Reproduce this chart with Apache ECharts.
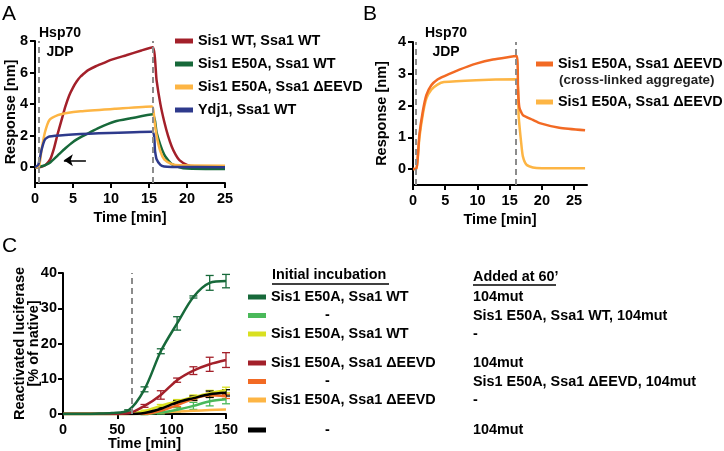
<!DOCTYPE html>
<html><head><meta charset="utf-8">
<script src="https://cdn.jsdelivr.net/npm/echarts@6/dist/echarts.min.js"></script>
<style>html,body{margin:0;padding:0;background:#fff}#c{width:724px;height:451px}</style>
</head><body><div id="c"></div>
<script>
const FONT = '"Liberation Sans", Arial, sans-serif';

// ---------- Panel A data ----------
const aLabels = ['Sis1 WT, Ssa1 WT', 'Sis1 E50A, Ssa1 WT', 'Sis1 E50A, Ssa1 ΔEEVD', 'Ydj1, Ssa1 WT'];
const aColors = ['#a3202a', '#17693a', '#fdb544', '#2e3a8c'];
const aRed = [[0,0],[0.5,0],[1,0.05],[1.5,0.2],[2,0.5],[2.5,1.2],[3,2.15],[3.5,3.0],[4,3.85],[4.5,4.55],[5,5.05],[5.5,5.45],[6,5.75],[6.6,6.0],[7,6.15],[8,6.4],[9,6.6],[10,6.8],[12,7.1],[14,7.4],[15.5,7.6],[16,5.5],[16.5,4.0],[17,2.9],[17.5,2.0],[18,1.3],[18.5,0.8],[19,0.45],[20,0.15],[21,0.06],[25,0.03]];
const aGreen = [[0,0],[0.5,0.02],[1,0.08],[1.5,0.17],[2,0.3],[3,0.75],[4,1.2],[5,1.6],[6.2,1.95],[7,2.15],[8.4,2.5],[10.5,2.9],[12.6,3.1],[15.5,3.35],[16,2.2],[16.5,1.4],[17,0.8],[17.5,0.45],[18,0.2],[19,0.0],[20,-0.08],[25,-0.12]];
const aYellow = [[0,0],[0.5,0.02],[0.86,1.1],[1.3,2.2],[1.9,3.0],[3,3.3],[4,3.42],[6,3.55],[10.5,3.7],[15.4,3.85],[15.7,3.0],[16,2.0],[16.5,1.0],[17,0.5],[18,0.2],[19,0.12],[25,0.1]];
const aBlue = [[0,0],[0.43,0.15],[0.86,1.1],[1.3,1.75],[1.9,1.95],[4,2.05],[8.4,2.15],[15.4,2.25],[15.8,1.0],[16,0.5],[16.5,0.15],[17,0.05],[18,0.02],[25,0.0]];
const aSeries = [aRed, aGreen, aYellow, aBlue];
const aDashes = [0.5, 15.5];
const aArrow = [[6.7, 0.44], [3.8, 0.44]];
const aYTicks = [0, 2, 4, 6, 8];

// ---------- Panel B data ----------
const bLabels = ['Sis1 E50A, Ssa1 ΔEEVD', 'Sis1 E50A, Ssa1 ΔEEVD'];
const bSubLabel = '(cross-linked aggregate)';
const bColors = ['#f26a24', '#fdb544'];
const bDark = [[0,0],[0.5,0],[1.0,1.1],[1.55,1.85],[2.07,2.33],[2.84,2.64],[3.8,2.82],[4.8,2.92],[7.2,3.13],[9.8,3.32],[12.4,3.45],[16.1,3.56],[16.3,2.5],[16.5,1.95],[17.05,1.7],[18.6,1.55],[19.8,1.44],[22.7,1.3],[26.7,1.22]];
const bLight = [[0,0],[0.5,0],[1.0,1.0],[1.55,1.75],[2.07,2.22],[2.84,2.5],[3.8,2.66],[4.8,2.74],[9.8,2.8],[16.1,2.83],[16.4,1.65],[16.8,0.8],[17.05,0.4],[17.6,0.14],[18.6,0.05],[20,0.03],[26.7,0.03]];
const bSeries = [bDark, bLight];
const bDashes = [0.5, 16];
const bXTicks = [0, 5, 10, 15, 20, 25];
const bYTicks = [0, 1, 2, 3, 4];

// ---------- Panel C data ----------
const cTimes = [0, 15, 30, 45, 60, 75, 90, 105, 120, 135, 150];
const cInitial = ['Sis1 E50A, Ssa1 WT', '-', 'Sis1 E50A, Ssa1 WT', 'Sis1 E50A, Ssa1 ΔEEVD', '-', 'Sis1 E50A, Ssa1 ΔEEVD', '-'];
const cAdded = ['104mut', 'Sis1 E50A, Ssa1 WT, 104mut', '-', '104mut', 'Sis1 E50A, Ssa1 ΔEEVD, 104mut', '-', '104mut'];
const cColors = ['#17693a', '#4ab95a', '#d9e021', '#a3202a', '#f26a24', '#fdb544', '#000000'];
const cDarkGreen = [0, 0, 0.1, 0.3, 1.0, 7.0, 17.8, 25.7, 33.2, 37.2, 37.7];
const cLightGreen = [0, 0, 0, 0, 0, 0, 0.4, 1.2, 2.3, 3.6, 4.2];
const cYellow = [0, 0, 0, 0, 0.1, 0.8, 2.3, 3.6, 4.8, 5.9, 6.8];
const cRed = [0, 0, 0, 0, 0.2, 2.3, 5.4, 9.6, 12.3, 14.1, 15.3];
const cOrange = [0, 0, 0, 0, 0, 0, 0.9, 2.5, 4.3, 5.3, 5.0];
const cLightOrange = [0, 0, 0, 0, 0, 0.2, 0.4, 0.7, 0.9, 1.1, 1.3];
const cBlack = [0, 0, 0, 0, 0, 0.3, 1.5, 3.3, 4.5, 5.6, 6.0];
const cErrDarkGreen = [0, 0, 0, 0, 0.2, 0.7, 0.7, 1.9, 0.3, 2.1, 1.9];
const cErrLightGreen = [0, 0, 0, 0, 0, 0.2, 0.4, 0.6, 1.0, 1.3, 1.3];
const cErrYellow = [0, 0, 0, 0, 0, 0.3, 0.4, 0.5, 0.6, 0.8, 0.8];
const cErrRed = [0, 0, 0, 0, 0, 0.4, 1.2, 0.6, 1.1, 2.0, 2.1];
const cErrOrange = [0, 0, 0, 0, 0, 0, 0.3, 0.4, 0.5, 0.6, 0.6];
const cErrLightOrange = [0, 0, 0, 0, 0, 0, 0, 0, 0, 0, 0];
const cErrBlack = [0, 0, 0, 0, 0, 0.3, 0.4, 0.5, 0.6, 0.9, 0.9];
const cValues = [cDarkGreen, cLightGreen, cYellow, cRed, cOrange, cLightOrange, cBlack];
const cErrors = [cErrDarkGreen, cErrLightGreen, cErrYellow, cErrRed, cErrOrange, cErrLightOrange, cErrBlack];
const cDash = 63;
const cGroups = [[0, 1, 2], [3, 4, 5], [6]];

// ---------- build ----------
const txt = (size, weight) => ({ fontFamily: FONT, fontSize: size, fontWeight: weight || 'bold', color: '#000' });
function axis(extra) {
  const base = {
    type: 'value',
    axisLine: { show: true, onZero: false, lineStyle: { color: '#000', width: 2 } },
    axisTick: { show: true, length: 5, lineStyle: { color: '#000', width: 2 } },
    axisLabel: Object.assign({ margin: 8 }, txt(14.5)),
    splitLine: { show: false },
    nameLocation: 'middle',
    nameMoveOverlap: false,
    nameTextStyle: txt(14.5)
  };
  for (const k in extra) {
    if (typeof extra[k] === 'object' && !Array.isArray(extra[k]) && base[k]) base[k] = Object.assign({}, base[k], extra[k]);
    else base[k] = extra[k];
  }
  return base;
}
const dashStyle = { color: '#8c8c8c', type: [6, 4], width: 2 };

const series = [];
aSeries.forEach((d, i) => {
  const s = {
    name: 'A' + i + '|' + aLabels[i], type: 'line', xAxisIndex: 0, yAxisIndex: 0, data: d,
    showSymbol: false, smooth: 0.2, color: aColors[i], lineStyle: { width: 2.5, color: aColors[i] }, z: 3
  };
  if (i === 0) s.markLine = { silent: true, symbol: 'none', label: { show: false }, lineStyle: dashStyle, data: aDashes.map(v => ({ xAxis: v })) };
  if (i === 3) s.markLine = { silent: true, symbol: ['none', 'arrow'], symbolSize: 9, label: { show: false },
    lineStyle: { color: '#000', type: 'solid', width: 1.5 }, data: [[{ coord: aArrow[0] }, { coord: aArrow[1] }]] };
  series.push(s);
});
bSeries.forEach((d, i) => {
  const s = {
    name: 'B' + i + '|' + bLabels[i], type: 'line', xAxisIndex: 1, yAxisIndex: 1, data: d,
    showSymbol: false, smooth: 0.2, color: bColors[i], lineStyle: { width: 2.5, color: bColors[i] }, z: 4 - i
  };
  if (i === 0) s.markLine = { silent: true, symbol: 'none', label: { show: false }, lineStyle: dashStyle, data: bDashes.map(v => ({ xAxis: v })) };
  series.push(s);
});
const cOrder = [5, 1, 4, 2, 6, 3, 0];
cOrder.forEach(i => {
  const s = {
    name: 'C' + i + '|' + cInitial[i], type: 'line', xAxisIndex: 2, yAxisIndex: 2,
    data: cTimes.map((t, k) => [t, cValues[i][k]]),
    showSymbol: false, smooth: 0.3, color: cColors[i], lineStyle: { width: 2.5, color: cColors[i] }, z: 3
  };
  if (i === 0) s.markLine = { silent: true, symbol: 'none', label: { show: false }, lineStyle: dashStyle, data: [{ xAxis: cDash }] };
  series.push(s);
  series.push({
    type: 'custom', xAxisIndex: 2, yAxisIndex: 2, silent: true, z: 3,
    encode: { x: 0, y: [1, 2] },
    data: cTimes.map((t, k) => [t, cValues[i][k] - cErrors[i][k], cValues[i][k] + cErrors[i][k]]).filter((d, k) => cErrors[i][k] > 0),
    renderItem: (params, api) => {
      const lo = api.coord([api.value(0), api.value(1)]);
      const hi = api.coord([api.value(0), api.value(2)]);
      const w = 4, st = { stroke: cColors[i], lineWidth: 1.3 };
      return { type: 'group', children: [
        { type: 'line', shape: { x1: lo[0], y1: lo[1], x2: hi[0], y2: hi[1] }, style: st },
        { type: 'line', shape: { x1: lo[0] - w, y1: lo[1], x2: lo[0] + w, y2: lo[1] }, style: st },
        { type: 'line', shape: { x1: hi[0] - w, y1: hi[1], x2: hi[0] + w, y2: hi[1] }, style: st }
      ] };
    }
  });
});

const legTxt = Object.assign({ lineHeight: 16 }, txt(14.4));
const legends = [
  { data: aLabels.map((l, i) => 'A' + i + '|' + l), orient: 'vertical', left: 175, top: 33, padding: 0, itemWidth: 18, itemHeight: 5, itemGap: 7,
    icon: 'rect', selectedMode: false, textStyle: legTxt, formatter: n => n.split('|')[1] },
  { data: bLabels.map((l, i) => 'B' + i + '|' + l), orient: 'vertical', left: 536, top: 56, padding: 0, itemWidth: 17, itemHeight: 5, itemGap: 22,
    icon: 'rect', selectedMode: false, textStyle: legTxt, formatter: n => n.split('|')[1] }
];
const cTops = [289, 355, 422];
cGroups.forEach((g, gi) => {
  legends.push({
    data: g.map(i => 'C' + i + '|' + cInitial[i]), orient: 'vertical', left: 248, top: cTops[gi], padding: 0, itemWidth: 18, itemHeight: 5, itemGap: 2.5,
    icon: 'rect', selectedMode: false,
    textStyle: Object.assign({}, legTxt, { rich: { dash: Object.assign({ padding: [0, 0, 0, 54], lineHeight: 16 }, txt(14.4)) } }),
    formatter: n => { const t = n.split('|')[1]; return t === '-' ? '{dash|-}' : t; }
  });
});

const cRowY = [297, 316, 334, 363, 382, 400, 430];
const center = (x, y, t, font) => ({ type: 'text', x: x, y: y, style: { text: t, font: font, fill: '#000', align: 'center', verticalAlign: 'middle' } });
const graphic = [
  { type: 'text', left: 2, top: 4, style: { text: 'A', font: 'normal 21px ' + FONT, fill: '#000' } },
  { type: 'text', left: 363, top: 4, style: { text: 'B', font: 'normal 21px ' + FONT, fill: '#000' } },
  { type: 'text', left: 2, top: 236, style: { text: 'C', font: 'normal 21px ' + FONT, fill: '#000' } },
  center(60, 33, 'Hsp70', 'bold 14px ' + FONT),
  center(60, 52, 'JDP', 'bold 14px ' + FONT),
  center(446, 33, 'Hsp70', 'bold 14px ' + FONT),
  center(446, 52, 'JDP', 'bold 14px ' + FONT),
  { type: 'text', x: 559, y: 80, style: { text: bSubLabel, font: 'bold 13.4px ' + FONT, fill: '#222', verticalAlign: 'middle' } },
  { type: 'text', x: 272, y: 275, style: { text: 'Initial incubation', font: 'bold 14.4px ' + FONT, fill: '#000', verticalAlign: 'middle' } },
  { type: 'line', shape: { x1: 272, y1: 284, x2: 389, y2: 284 }, style: { stroke: '#000', lineWidth: 1.5 } },
  { type: 'text', x: 473, y: 277, style: { text: 'Added at 60’', font: 'bold 14.4px ' + FONT, fill: '#000', verticalAlign: 'middle' } },
  { type: 'line', shape: { x1: 473, y1: 285, x2: 556, y2: 285 }, style: { stroke: '#000', lineWidth: 1.5 } }
];
cAdded.forEach((t, i) => graphic.push({ type: 'text', x: 473, y: cRowY[i], style: { text: t, font: 'bold 14.4px ' + FONT, fill: '#000', verticalAlign: 'middle' } }));

const option = {
  animation: false,
  backgroundColor: '#fff',
  grid: [
    { left: 35, top: 41, width: 190, height: 142, outerBoundsMode: 'none' },
    { left: 413, top: 42, width: 174, height: 143, outerBoundsMode: 'none' },
    { left: 63, top: 273, width: 163, height: 141, outerBoundsMode: 'none' }
  ],
  xAxis: [
    axis({ gridIndex: 0, min: 0, max: 25, interval: 5, name: 'Time [min]', nameGap: 27 }),
    axis({ gridIndex: 1, min: 0, max: 27, name: 'Time [min]', nameGap: 27, axisTick: { customValues: bXTicks }, axisLabel: { customValues: bXTicks } }),
    axis({ gridIndex: 2, min: 0, max: 150, interval: 50, name: 'Time [min]', nameGap: 22 })
  ],
  yAxis: [
    axis({ gridIndex: 0, min: -1, max: 8, name: 'Response [nm]', nameGap: 17, axisLabel: { customValues: aYTicks, margin: 7 }, axisTick: { customValues: aYTicks } }),
    axis({ gridIndex: 1, min: -0.5, max: 4, name: 'Response [nm]', nameGap: 24, axisLabel: { customValues: bYTicks, margin: 7 }, axisTick: { customValues: bYTicks } }),
    axis({ gridIndex: 2, min: 0, max: 40, interval: 10, name: 'Reactivated luciferase\n[% of native]', nameGap: 22, axisLabel: { margin: 6 }, nameTextStyle: { lineHeight: 14 } })
  ],
  legend: legends,
  graphic: graphic,
  series: series
};
const chart = echarts.init(document.getElementById('c'), null, { renderer: 'canvas' });
chart.setOption(option);
</script></body></html>
